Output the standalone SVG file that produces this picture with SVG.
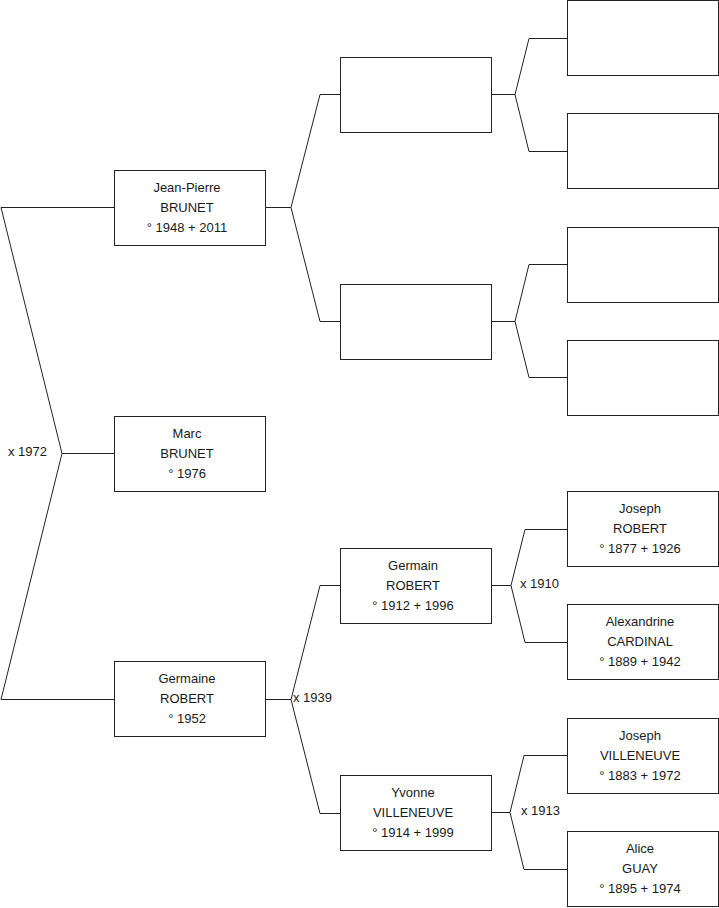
<svg xmlns="http://www.w3.org/2000/svg" width="719" height="908" viewBox="0 0 719 908">
<style>
.box{fill:#fff;stroke:#222;stroke-width:1}
.ln{fill:none;stroke:#222;stroke-width:1}
text{font-family:"Liberation Sans",Arial,sans-serif;font-size:13px;fill:#1a1a1a}
.n text{text-anchor:middle}
</style>
<rect width="719" height="908" fill="#fff"/>
<g id="connectors">
<polyline class="ln" points="114.5,207.5 1,207.5 62,453.5 1,699.5 114.5,699.5"/>
<line class="ln" x1="62" y1="453.5" x2="114.5" y2="453.5"/>
<polyline class="ln" points="265.5,207.5 291,207.5"/>
<polyline class="ln" points="340.5,94.5 320,94.5 291,207.5 320,321.5 340.5,321.5"/>
<polyline class="ln" points="265.5,699.5 291,699.5"/>
<polyline class="ln" points="340.5,585.5 320,585.5 291,699.5 320,813.5 340.5,813.5"/>
<polyline class="ln" points="491.5,94.5 515,94.5"/>
<polyline class="ln" points="567.5,38.5 529,38.5 515,94.5 529,151.5 567.5,151.5"/>
<polyline class="ln" points="491.5,321.5 515,321.5"/>
<polyline class="ln" points="567.5,264.5 529,264.5 515,321.5 529,377.5 567.5,377.5"/>
<polyline class="ln" points="491.5,585.5 511,585.5"/>
<polyline class="ln" points="567.5,529.5 525,529.5 511,585.5 525,642.5 567.5,642.5"/>
<polyline class="ln" points="491.5,812.5 510,812.5"/>
<polyline class="ln" points="567.5,755.5 524,755.5 510,812.5 524,869.5 567.5,869.5"/>
<text x="8" y="456">x 1972</text>
<text x="293" y="702">x 1939</text>
<text x="520" y="588">x 1910</text>
<text x="521" y="815">x 1913</text>
</g>
<g id="jean-pierre" class="n">
<rect class="box" x="114.5" y="170.5" width="151" height="75"/>
<text x="187" y="191.5">Jean-Pierre</text>
<text x="187" y="212">BRUNET</text>
<text x="187" y="231.5">° 1948 + 2011</text>
</g>
<g id="marc" class="n">
<rect class="box" x="114.5" y="416.5" width="151" height="75"/>
<text x="187" y="437.5">Marc</text>
<text x="187" y="458">BRUNET</text>
<text x="187" y="477.5">° 1976</text>
</g>
<g id="germaine" class="n">
<rect class="box" x="114.5" y="661.5" width="151" height="75"/>
<text x="187" y="682.5">Germaine</text>
<text x="187" y="703">ROBERT</text>
<text x="187" y="722.5">° 1952</text>
</g>
<g id="p2a" class="n"><rect class="box" x="340.5" y="57.5" width="151" height="75"/></g>
<g id="p2b" class="n"><rect class="box" x="340.5" y="284.5" width="151" height="75"/></g>
<g id="germain" class="n">
<rect class="box" x="340.5" y="548.5" width="151" height="75"/>
<text x="413" y="569.5">Germain</text>
<text x="413" y="590">ROBERT</text>
<text x="413" y="609.5">° 1912 + 1996</text>
</g>
<g id="yvonne" class="n">
<rect class="box" x="340.5" y="775.5" width="151" height="75"/>
<text x="413" y="796.5">Yvonne</text>
<text x="413" y="817">VILLENEUVE</text>
<text x="413" y="836.5">° 1914 + 1999</text>
</g>
<g id="p3a" class="n"><rect class="box" x="567.5" y="0.5" width="151" height="75"/></g>
<g id="p3b" class="n"><rect class="box" x="567.5" y="113.5" width="151" height="75"/></g>
<g id="p3c" class="n"><rect class="box" x="567.5" y="227.5" width="151" height="75"/></g>
<g id="p3d" class="n"><rect class="box" x="567.5" y="340.5" width="151" height="75"/></g>
<g id="joseph-robert" class="n">
<rect class="box" x="567.5" y="491.5" width="151" height="75"/>
<text x="640" y="512.5">Joseph</text>
<text x="640" y="533">ROBERT</text>
<text x="640" y="552.5">° 1877 + 1926</text>
</g>
<g id="alexandrine" class="n">
<rect class="box" x="567.5" y="604.5" width="151" height="75"/>
<text x="640" y="625.5">Alexandrine</text>
<text x="640" y="646">CARDINAL</text>
<text x="640" y="665.5">° 1889 + 1942</text>
</g>
<g id="joseph-villeneuve" class="n">
<rect class="box" x="567.5" y="718.5" width="151" height="75"/>
<text x="640" y="739.5">Joseph</text>
<text x="640" y="760">VILLENEUVE</text>
<text x="640" y="779.5">° 1883 + 1972</text>
</g>
<g id="alice" class="n">
<rect class="box" x="567.5" y="831.5" width="151" height="75"/>
<text x="640" y="852.5">Alice</text>
<text x="640" y="873">GUAY</text>
<text x="640" y="892.5">° 1895 + 1974</text>
</g>
</svg>
